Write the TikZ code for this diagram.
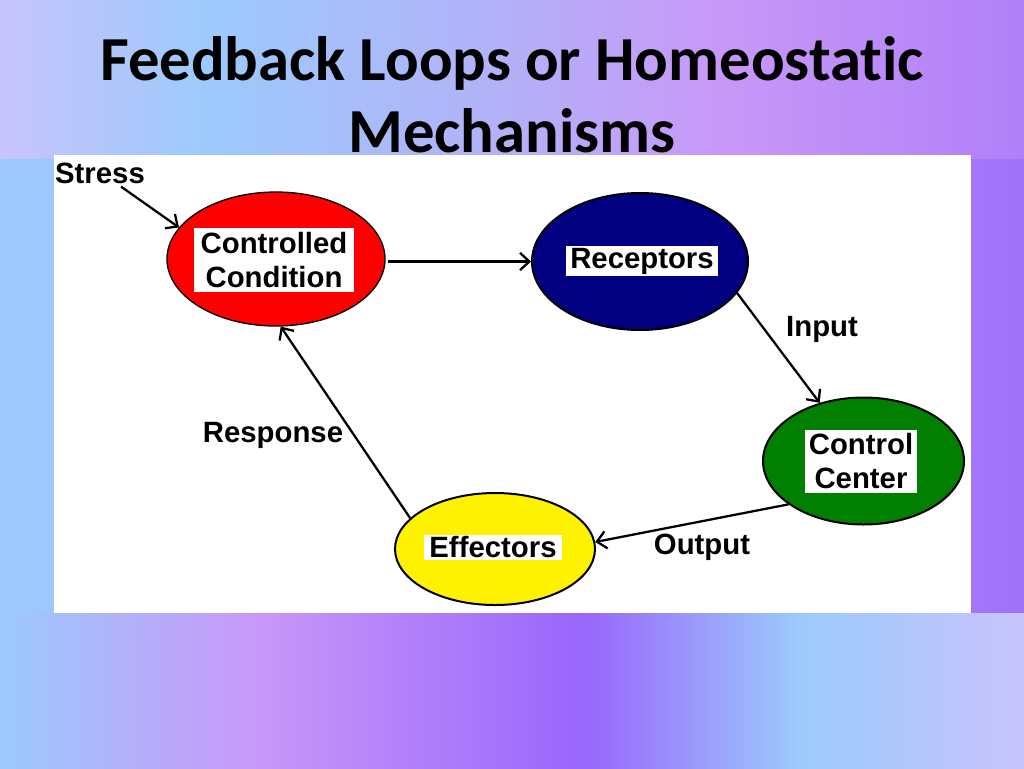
\documentclass[tikz,border=0pt]{standalone}
\usepackage{fontspec}
\setmainfont{Liberation Sans}
\newfontfamily\titlefont[Ligatures=NoCommon]{Carlito}
\usetikzlibrary{shapes.geometric,arrows.meta}
\definecolor{bgA}{HTML}{C8C4FC}
\definecolor{bgB}{HTML}{9CCAFC}
\definecolor{bgC}{HTML}{B4B0F8}
\definecolor{bgD}{HTML}{C898F8}
\definecolor{bgE}{HTML}{B080F8}
\definecolor{bgF}{HTML}{A070FA}
\definecolor{bgG}{HTML}{9966FC}
\definecolor{navyfill}{HTML}{000080}
\definecolor{greenfill}{HTML}{007F00}
\pgfdeclarehorizontalshading{topshade}{100bp}{color(0bp)=(bgA); color(25bp)=(bgA); color(35bp)=(bgB); color(50bp)=(bgC); color(60bp)=(bgD); color(75bp)=(bgE); color(100bp)=(bgE)}
\pgfdeclarehorizontalshading{midshade}{100bp}{color(0bp)=(bgB); color(25bp)=(bgB); color(50bp)=(bgC); color(75bp)=(bgF); color(100bp)=(bgF)}
\pgfdeclarehorizontalshading{botshade}{100bp}{color(0bp)=(bgB); color(25bp)=(bgB); color(37.5bp)=(bgD); color(53.5bp)=(bgG); color(64bp)=(bgB); color(75bp)=(bgA); color(100bp)=(bgA)}
\begin{document}
\begin{tikzpicture}[x=0.75pt,y=-0.75pt,
  oval/.style={ellipse,draw=black,line width=1.5pt,inner sep=0pt},
  lbl/.style={fill=white,inner xsep=4pt,font=\bfseries\fontsize{22}{25.5}\selectfont,align=center},
  freelbl/.style={inner sep=0pt,font=\bfseries\fontsize{22}{25.5}\selectfont},
  conn/.style={line width=1.7pt,-{Straight Barb[length=7pt,width=13pt]}}]
\useasboundingbox (0,0) rectangle (1024,768);
% background
\fill[shading=topshade] (0,0) rectangle (1024,160);
\fill[shading=midshade] (0,159) rectangle (1024,614);
\fill[shading=botshade] (0,613) rectangle (1024,768);
\fill[white] (54,155) rectangle (971,613);
% title
\node[font=\titlefont\bfseries\fontsize{47}{54}\selectfont,align=center,anchor=base] (title) at (512,152) {Feedback Loops or Homeostatic\\Mechanisms};
% ellipses
\node[oval,fill=red,line width=1pt,minimum width=163.5pt,minimum height=100.5pt] (red) at (276,259) {};
\node[oval,fill=navyfill,minimum width=162pt,minimum height=102.75pt] (blue) at (640,261.5) {};
\node[oval,fill=greenfill,minimum width=150.75pt,minimum height=95.25pt] (green) at (863.5,461) {};
\node[oval,fill=yellow,minimum width=150pt,minimum height=84pt] (yellow) at (495,549) {};
% labels
\node[lbl,inner xsep=5pt,inner ysep=3pt] (redl) at (274,260) {Controlled\\Condition};
\node[lbl,inner xsep=3pt,inner ysep=1.2pt] (bluel) at (642,261) {Receptors};
\node[lbl,inner xsep=3pt,inner ysep=3pt] (greenl) at (861,461.5) {Control\\Center};
\node[lbl,inner ysep=1.2pt] (yellowl) at (493,547.5) {Effectors};
\node[freelbl] (stress) at (100,173) {Stress};
\node[freelbl] (input) at (822,329) {Input};
\node[freelbl] (response) at (273,435) {Response};
\node[freelbl] (output) at (702,547) {Output};
% connectors
\draw[conn] ([shift={(-24,3)}]stress.south east) -- (red.162);
\draw[conn,shorten <=2pt] (red.east |- blue.west) -- (blue.west);
\draw[conn] (blue.-18) -- (green.127);
\draw[conn] (green.210) -- (yellow.4);
\draw[conn] (yellow.160) -- (red.-86);
\end{tikzpicture}
\end{document}
